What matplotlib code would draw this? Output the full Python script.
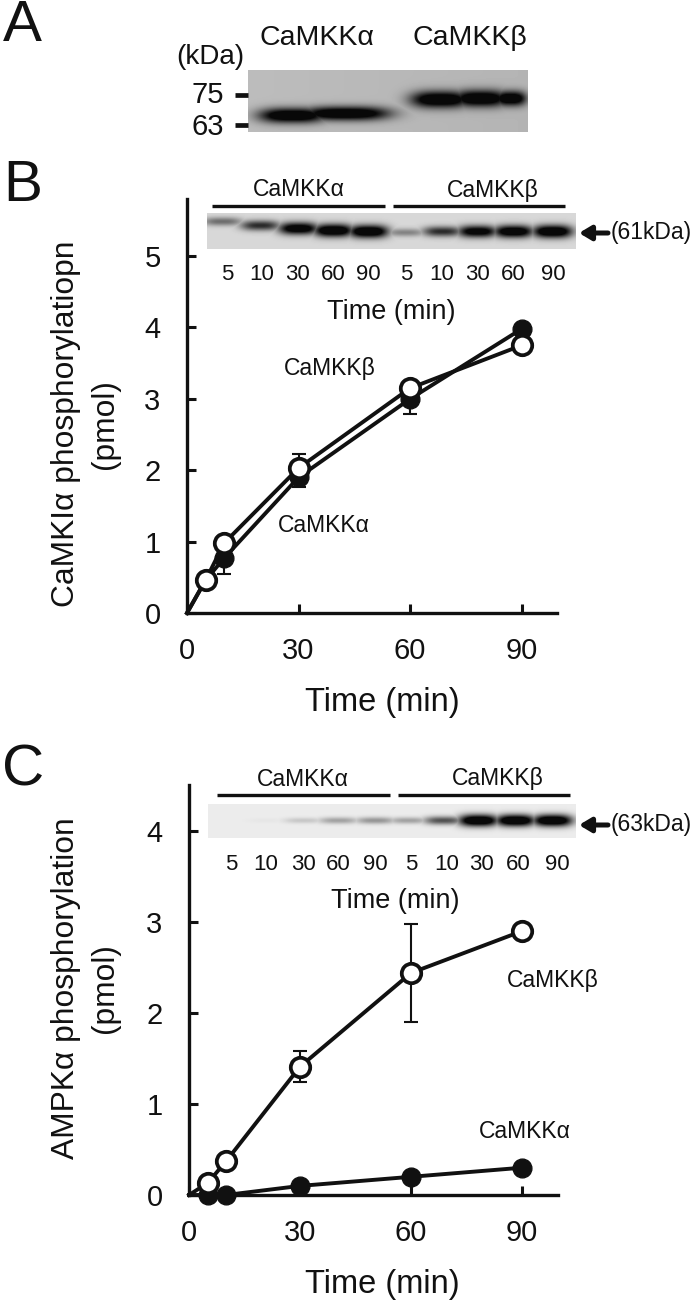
import numpy as np
import matplotlib
matplotlib.use("Agg")
import matplotlib.pyplot as plt

plt.rcParams['font.family'] = ['Liberation Sans', 'DejaVu Sans']

W, H = 693, 1303

# ---- data ----
time_min = [0, 5, 10, 30, 60, 90]
b_alpha = [0, 0.46, 0.77, 1.90, 3.00, 3.98]
b_beta = [0, 0.46, 0.98, 2.03, 3.15, 3.75]
b_alpha_err = [0, 0, 0.22, 0.13, 0.21, 0]
b_beta_err = [0, 0, 0, 0.20, 0, 0]
c_alpha = [0, 0.0, 0.0, 0.10, 0.20, 0.30]
c_beta = [0, 0.13, 0.37, 1.41, 2.44, 2.90]
c_beta_err = [0, 0, 0, 0.17, 0.54, 0]
xticks = [0, 30, 60, 90]
b_yticks = [0, 1, 2, 3, 4, 5]
c_yticks = [0, 1, 2, 3, 4]
lane_labels = ['5', '10', '30', '60', '90']
b_band_strength = [0.38, 0.62, 0.92, 1.0, 1.0, 0.30, 0.62, 0.88, 0.95, 1.0]
c_band_strength = [0.0, 0.02, 0.12, 0.24, 0.28, 0.24, 0.5, 1.0, 1.0, 1.0]
# ---- layout (pixels) ----
b_lane_x = [222, 260, 298, 333, 368, 405, 442, 477, 513, 552]
b_lane_y = [221, 225, 228, 230, 231, 232, 231, 231, 231, 231]
b_text_x = [227, 262, 297, 333, 368, 406, 442, 477, 513, 553]
c_lane_x = [230, 266, 303, 338, 375, 408, 443, 478, 515, 552]
c_lane_y = [820] * 10
c_text_x = [231, 266, 303, 338, 375, 411, 447, 481, 518, 557]

fig = plt.figure(figsize=(W / 100, H / 100), dpi=100, facecolor='white')


def px_axes(l, t, r, b, **kw):
    return fig.add_axes([l / W, 1 - b / H, (r - l) / W, (b - t) / H], **kw)


over = px_axes(0, 0, W, H, zorder=5)
over.set_xlim(0, W)
over.set_ylim(H, 0)
over.axis('off')
over.patch.set_alpha(0)


def txt(x, y, s, size, ha='center', **kw):
    over.text(x, y, s, fontsize=size, ha=ha, va='center', color='#111111', **kw)


def blot(l, t, r, b, bg, bands, slope=0.0):
    """bands: (xcenter, ycenter, half-width, half-height, strength)"""
    yy, xx = np.mgrid[t:b, l:r]
    img = np.full(xx.shape, float(bg)) + slope * (xx - l) / (r - l)
    dark = np.zeros(xx.shape)
    for xc, yc, hw, hh, s in bands:
        dark = np.maximum(dark, s * np.exp(-np.abs((xx - xc) / hw) ** 3
                                           - ((yy - yc) / hh) ** 2))
    d = np.clip(dark * 1.35, 0, 1)
    img = img * (1 - d) + 8 * d
    ax = px_axes(l, t, r, b, zorder=2)
    ax.imshow(img, cmap='gray', vmin=0, vmax=255, aspect='auto', interpolation='bilinear')
    ax.axis('off')


def arrow(y):
    over.annotate('', xy=(579, y), xytext=(608, y),
                  arrowprops=dict(arrowstyle='-|>,head_width=0.42,head_length=0.7', lw=3.6,
                                  color='#111111', shrinkA=0, shrinkB=0))


def line_plot(box, lim, a, ae, be_vals, be_err):
    ax = px_axes(*box, zorder=3)
    ax.patch.set_alpha(0)
    ax.set_xlim(0, lim[0])
    ax.set_ylim(0, lim[1])
    for s in ('top', 'right'):
        ax.spines[s].set_visible(False)
    for s in ('left', 'bottom'):
        ax.spines[s].set_linewidth(2.4)
        ax.spines[s].set_color('#111111')
    ax.plot(time_min, a, color='#111111', lw=2.8, clip_on=False, zorder=3)
    ax.errorbar(time_min[1:], a[1:], yerr=[ae[1:], [0] * 5], ls='none', color='#111111', marker='o',
                ms=13.5, mfc='#111111', mec='#111111', capsize=5, capthick=1.5,
                elinewidth=1.5, clip_on=False, zorder=3)
    ax.errorbar(time_min[1:], be_vals[1:], yerr=be_err[1:], ls='none', color='#111111',
                capsize=5, capthick=1.5, elinewidth=1.5, clip_on=False, zorder=4)
    ax.plot(time_min, be_vals, color='#111111', lw=2.8, clip_on=False, zorder=4)
    ax.plot(time_min[1:], be_vals[1:], ls='none', marker='o', ms=14, mfc='white',
            mec='#111111', mew=2.7, clip_on=False, zorder=5)
    ax.set_xticks(xticks)
    ax.tick_params(axis='both', direction='in', length=6.5, width=2.2, labelsize=21,
                   color='#111111', labelcolor='#111111')
    ax.tick_params(axis='x', pad=17)
    ax.tick_params(axis='y', pad=19)
    return ax


# ---- Panel A ----
txt(22, 26, 'A', 42)
blot(248, 70, 528, 132, 188,
     [(292, 115, 34, 7.5, 1.0), (345, 113, 45, 7, 1.0),
      (440, 99, 30, 8.5, 1.0), (480, 98, 28, 8.5, 1.0), (510, 98, 16, 7.5, 1.0)],
     slope=-8)
txt(317, 38, 'CaMKKα', 20.5)
txt(470, 38, 'CaMKKβ', 20.5)
txt(210, 57, '(kDa)', 20)
txt(224, 95, '75', 21, ha='right')
txt(224, 127, '63', 21, ha='right')
over.plot([235, 248], [95, 95], color='#111111', lw=3.4, solid_capstyle='butt')
over.plot([235, 248], [125, 125], color='#111111', lw=3.4, solid_capstyle='butt')

# ---- Panel B ----
txt(23, 186, 'B', 42)
axb = line_plot((187, 199, 557, 613), (99.5, 5.8), b_alpha, b_alpha_err, b_beta, b_beta_err)
axb.set_yticks(b_yticks)
blot(207, 213, 576, 249, 216,
     [(x, y, 20, 3 + 3.5 * s, s) for x, y, s in zip(b_lane_x, b_lane_y, b_band_strength)])
over.plot([212, 385], [206, 206], color='#111111', lw=2.4, solid_capstyle='butt')
over.plot([393, 565], [206, 206], color='#111111', lw=2.4, solid_capstyle='butt')
txt(299, 190, 'CaMKKα', 16.5)
txt(493, 190, 'CaMKKβ', 16.5)
for x, s in zip(b_text_x, lane_labels * 2):
    txt(x, 275, s, 16)
txt(391, 312, 'Time (min)', 19.5)
txt(611, 232, '(61kDa)', 16.5, ha='left')
arrow(233)
txt(330, 369, 'CaMKKβ', 16.5)
txt(324, 526, 'CaMKKα', 16.5)
txt(382, 703, 'Time (min)', 23.5)
txt(66, 424, 'CaMKIα phosphorylatiopn', 22.9, rotation=90)
txt(105, 424, '(pmol)', 22.9, rotation=90)

# ---- Panel C ----
txt(23, 771, 'C', 42)
axc = line_plot((189, 785, 558, 1195), (99.7, 4.505), c_alpha, [0] * 6, c_beta, c_beta_err)
axc.set_yticks(c_yticks)
blot(208, 804, 576, 838, 236,
     [(x, y, 20, 2.5 + 3.5 * s, s) for x, y, s in zip(c_lane_x, c_lane_y, c_band_strength)])
over.plot([217, 390], [795, 795], color='#111111', lw=2.4, solid_capstyle='butt')
over.plot([398, 570], [795, 795], color='#111111', lw=2.4, solid_capstyle='butt')
txt(303, 779, 'CaMKKα', 16.5)
txt(498, 779, 'CaMKKβ', 16.5)
for x, s in zip(c_text_x, lane_labels * 2):
    txt(x, 865, s, 16)
txt(395, 901, 'Time (min)', 19.5)
txt(611, 824, '(63kDa)', 16.5, ha='left')
arrow(825)
txt(553, 981, 'CaMKKβ', 16.5)
txt(525, 1132, 'CaMKKα', 16.5)
txt(382, 1284, 'Time (min)', 23.5)
txt(66, 988, 'AMPKα phosphorylation', 22.9, rotation=90)
txt(105, 988, '(pmol)', 22.9, rotation=90)

fig.savefig('out.png', dpi=100)
